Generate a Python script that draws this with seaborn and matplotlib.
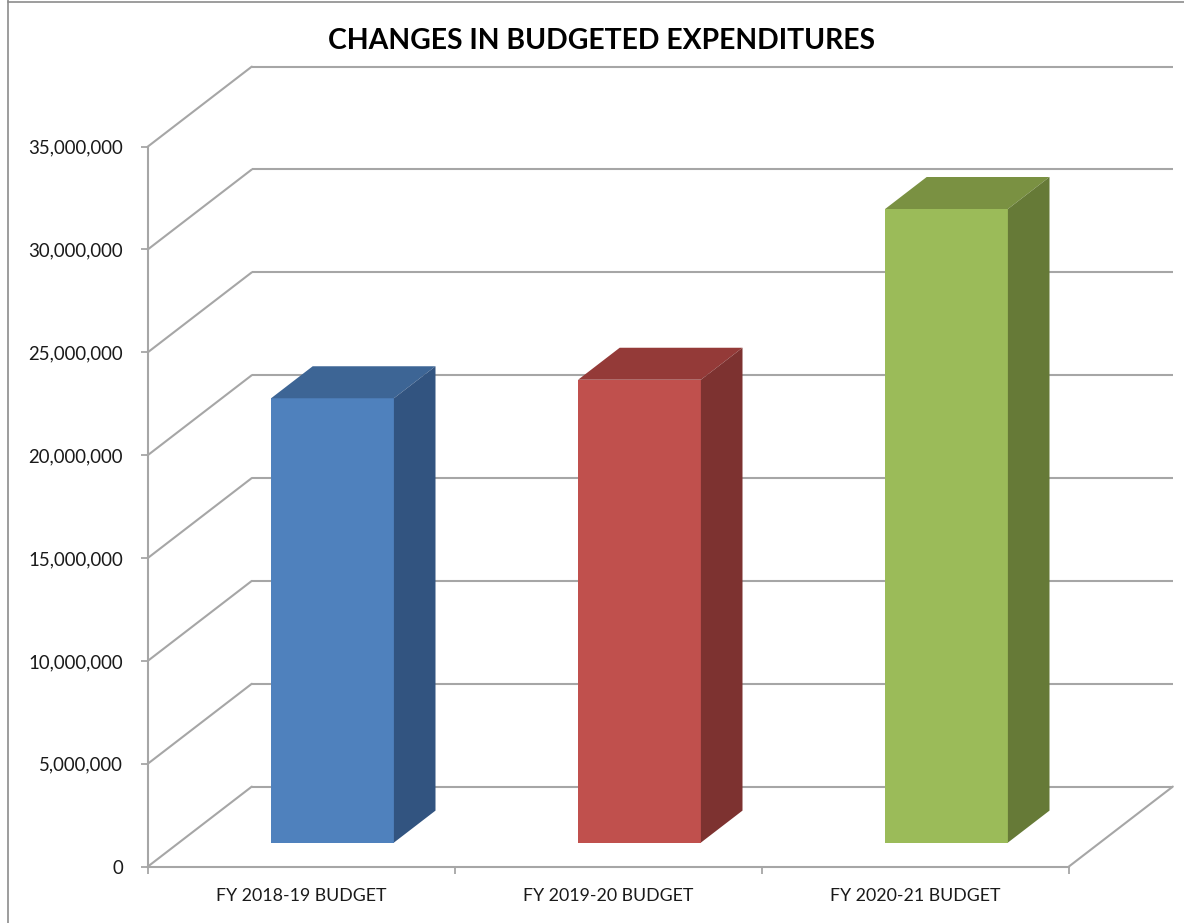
import numpy as np
import matplotlib
matplotlib.use("Agg")
import matplotlib.pyplot as plt
import seaborn as sns
from matplotlib.lines import Line2D
from matplotlib.patches import Polygon
from matplotlib.ticker import FixedLocator
from matplotlib.transforms import Affine2D

# Data
categories = ["FY 2018-19 BUDGET", "FY 2019-20 BUDGET", "FY 2020-21 BUDGET"]
budgets = [21600000, 22500000, 30800000]
y_ticks = [0, 5000000, 10000000, 15000000, 20000000, 25000000, 30000000, 35000000]

# Colours
front_colors = ["#4F81BD", "#C0504D", "#9BBB59"]
top_colors = ["#3D6595", "#943A38", "#7A9142"]
side_colors = ["#325480", "#7D3230", "#667A37"]
grid_color = "#A6A6A6"

sns.set_style("white")
plt.rcParams["font.family"] = ["Lato", "DejaVu Sans"]

W, H = 1184, 923
fig = plt.figure(figsize=(W / 100, H / 100), dpi=100)
ax = fig.add_axes([147.8 / W, (H - 866.6) / H, 921 / W, 720 / H])
ax.patch.set_alpha(0)

# Fake 3D depth of the box, in pixels
DEPTH_X, DEPTH_Y = 104, 80
BAR_START, BAR_END = 0.3, 0.7


def shifted(depth):
    return ax.transData + Affine2D().translate(DEPTH_X * depth, DEPTH_Y * depth)


# Front faces
sns.barplot(x=categories, y=budgets, hue=categories, palette=front_colors,
            saturation=1, width=0.4, legend=False, ax=ax, zorder=3, linewidth=0)
ax.set_xlim(-0.5, 2.5)
ax.set_ylim(0, 35000000)
x0, x1 = ax.get_xlim()

# Back wall gridlines and the slanted lines on the left wall
for v in y_ticks:
    ax.plot([x0, x1], [v, v], color=grid_color, lw=1.5, transform=shifted(1),
            clip_on=False, zorder=1, solid_capstyle="butt")
    pa = ax.transData.transform((x0, v))
    ax.add_line(Line2D([pa[0], pa[0] + DEPTH_X], [pa[1], pa[1] + DEPTH_Y], color=grid_color,
                       lw=1.5, transform=None, clip_on=False, zorder=1))

# Right edge of the floor
pa = ax.transData.transform((x1, 0))
ax.add_line(Line2D([pa[0], pa[0] + DEPTH_X], [pa[1], pa[1] + DEPTH_Y], color=grid_color,
                   lw=1.5, transform=None, clip_on=False, zorder=1))

# Top and side faces of the bars
sx = DEPTH_X * (BAR_END - BAR_START)
sy = DEPTH_Y * (BAR_END - BAR_START)
for bar, top_c, side_c in zip(ax.patches, top_colors, side_colors):
    bar.set_transform(shifted(BAR_START))
    bar.set_clip_on(False)
    (xa, ya), (xb, yb) = shifted(BAR_START).transform(
        [(bar.get_x(), 0), (bar.get_x() + bar.get_width(), bar.get_height())])
    ax.add_patch(Polygon([(xa, yb), (xb, yb), (xb + sx, yb + sy), (xa + sx, yb + sy)],
                         closed=True, fc=top_c, ec="none", transform=None, zorder=3, clip_on=False))
    ax.add_patch(Polygon([(xb, ya), (xb + sx, ya + sy), (xb + sx, yb + sy), (xb, yb)],
                         closed=True, fc=side_c, ec="none", transform=None, zorder=3, clip_on=False))

# Axes
sns.despine(ax=ax, top=True, right=True)
for side in ["left", "bottom"]:
    ax.spines[side].set_color(grid_color)
    ax.spines[side].set_linewidth(1.5)
ax.set_yticks(y_ticks)
ax.set_yticklabels([f"{v:,}" for v in y_ticks], fontsize=13.4, color="#1A1A1A")
ax.set_xticks(range(len(categories)))
ax.set_xticklabels(categories, fontsize=12.8, color="#1A1A1A")
ax.xaxis.set_minor_locator(FixedLocator(np.arange(x0, x1 + 0.5)))
ax.tick_params(axis="x", which="major", length=0, pad=15.5)
ax.tick_params(axis="x", which="minor", bottom=True, length=5, width=1.3, color=grid_color)
ax.tick_params(axis="y", left=True, length=5, width=1.3, color=grid_color, pad=13)
ax.set_xlabel("")
ax.set_ylabel("")

fig.text(601.5 / W, 1 - 41 / H, "CHANGES IN BUDGETED EXPENDITURES", fontsize=20.4,
         fontweight="bold", color="black", ha="center", va="center")

# Chart frame, only left and top are in view
fig.add_artist(Line2D([7.5 / W, 7.5 / W], [0, 1], color="#8C8C8C", lw=1.2))
fig.add_artist(Line2D([7.5 / W, 1], [1 - 1.5 / H, 1 - 1.5 / H], color="#8C8C8C", lw=1.2))

fig.savefig("out.png", dpi=100)
